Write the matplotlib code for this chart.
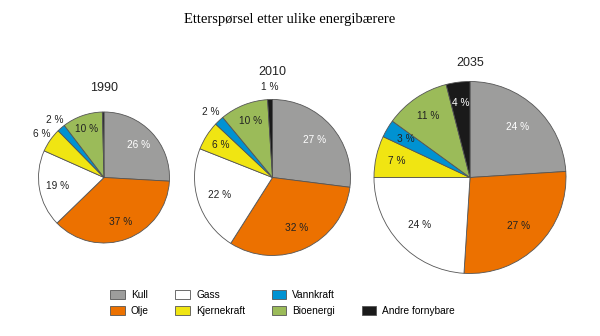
import matplotlib.pyplot as plt
import matplotlib.patches as mpatches
import numpy as np

categories = ['Kull', 'Olje', 'Gass', 'Kjernekraft', 'Vannkraft', 'Bioenergi', 'Andre fornybare']
years = ['1990', '2010', '2035']
shares_1990 = [26, 37, 19, 6, 2, 10, 0.4]
shares_2010 = [27, 32, 22, 6, 2, 10, 1]
shares_2035 = [24, 27, 24, 7, 3, 11, 4]

colors = ['#9d9d9c', '#ec7100', '#ffffff', '#f0e512', '#0092d2', '#9bbb59', '#1a1a1a']
white_text = {'Kull', 'Andre fornybare'}

# layout in pixels (y up)
centers = [(104, 158.5), (272.5, 158.5), (470, 158.5)]
radii = [65.5, 78, 96]
title_gap = [24, 27.5, 19]
outside = [{'Kjernekraft', 'Vannkraft'}, {'Vannkraft', 'Andre fornybare'}, set()]

plt.rcParams['font.family'] = ['Liberation Sans', 'DejaVu Sans']
fig = plt.figure(figsize=(6, 3.36), dpi=100)
ax = fig.add_axes([0, 0, 1, 1])

wedges = None
for year, vals, c, r, gap, outs in zip(years, [shares_1990, shares_2010, shares_2035],
                                       centers, radii, title_gap, outside):
    wedges, _ = ax.pie(vals, colors=colors, startangle=90, counterclock=False,
                       center=c, radius=r, frame=True,
                       wedgeprops=dict(edgecolor='#555555', linewidth=0.6))
    for w, v, cat in zip(wedges, vals, categories):
        if v < 1:
            continue
        ang = np.deg2rad((w.theta1 + w.theta2) / 2)
        if cat in outs:
            d = 1.16 * r
            col = '#222222'
        else:
            d = 0.78 * r if v < 15 else 0.72 * r
            col = 'white' if cat in white_text else '#222222'
        ax.text(c[0] + d * np.cos(ang), c[1] + d * np.sin(ang), f'{v:g} %',
                ha='center', va='center', fontsize=7.3, color=col)
    ax.text(c[0], c[1] + r + gap, year, ha='center', va='center', fontsize=9, color='#222222')

ax.set_xlim(0, 600)
ax.set_ylim(0, 336)
ax.axis('off')

fig.text(0.483, 1 - 20 / 336, 'Etterspørsel etter ulike energibærere', ha='center', va='center',
         fontsize=10.5, family='Liberation Serif')

handles = list(wedges[:6]) + [mpatches.Patch(visible=False), wedges[6]]
labels = categories[:6] + ['', categories[6]]
fig.legend(handles, labels, ncol=4, loc='upper left', bbox_to_anchor=(102 / 600, 1 - 282 / 336),
           frameon=False, fontsize=7.3, handlelength=1.45, handleheight=0.95,
           handletextpad=0.6, columnspacing=2.6, labelspacing=0.55, borderpad=0.3)

fig.savefig('out.png', dpi=100)
